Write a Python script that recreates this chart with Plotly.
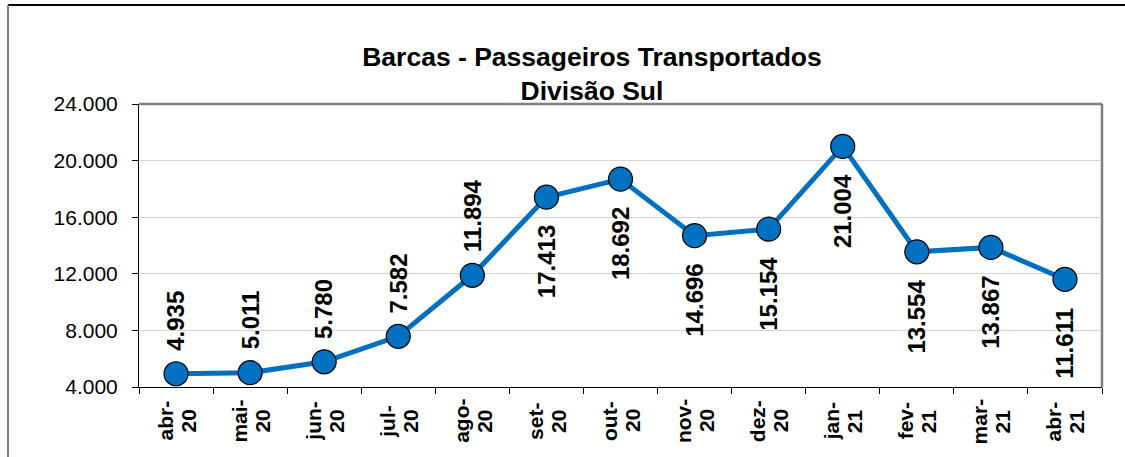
import plotly.graph_objects as go

months = ["abr-", "mai-", "jun-", "jul-", "ago-", "set-", "out-", "nov-", "dez-", "jan-", "fev-", "mar-", "abr-"]
years = ["20", "20", "20", "20", "20", "20", "20", "20", "20", "21", "21", "21", "21"]
passengers = [4935, 5011, 5780, 7582, 11894, 17413, 18692, 14696, 15154, 21004, 13554, 13867, 11611]
label_side = ["above"] * 5 + ["below"] * 8

categories = [f"{m}{y}" for m, y in zip(months, years)]

FONT = "Liberation Sans, Arial, sans-serif"
BLUE = "#0070C0"

def fmt(v):
    return f"{v:,}".replace(",", ".")

fig = go.Figure()
fig.add_trace(go.Scatter(
    x=categories, y=passengers, mode="lines+markers",
    line=dict(color=BLUE, width=5),
    marker=dict(size=24, color=BLUE, line=dict(color="black", width=1.2)),
    showlegend=False, hoverinfo="skip",
))

annotations = []
for c, v, side in zip(categories, passengers, label_side):
    annotations.append(dict(
        x=c, y=v, xref="x", yref="y", text=fmt(v), showarrow=False,
        textangle=-90, xanchor="center",
        yanchor="bottom" if side == "above" else "top",
        yshift=21 if side == "above" else -26,
        font=dict(family=FONT, size=24, color="black", weight="bold"),
    ))

# category labels: two rotated lines, each centred on a common baseline
label_font = dict(family=FONT, size=21, color="black", weight="bold")
for c, m, y in zip(categories, months, years):
    for txt, dx in ((m, -11.5), (y, 11.5)):
        annotations.append(dict(
            x=c, y=0, xref="x", yref="paper", text=txt, showarrow=False,
            textangle=-90, xanchor="center", yanchor="middle",
            xshift=dx, yshift=-34, font=label_font,
        ))

fig.update_layout(
    width=1125, height=457,
    margin=dict(l=139, r=23, t=104, b=70),
    paper_bgcolor="white", plot_bgcolor="white",
    separators=",.",
    title=dict(
        text="Barcas - Passageiros Transportados<br>Divisão Sul",
        x=592 / 1125, xanchor="center", xref="container",
        y=1 - 66 / 457, yanchor="top", yref="container",
        font=dict(family=FONT, size=26.5, color="black", weight="bold"),
    ),
    annotations=annotations,
    xaxis=dict(
        type="category", categoryorder="array", categoryarray=categories,
        showticklabels=False, ticks="outside", tickson="boundaries", ticklen=6,
        tickcolor="black", showline=True, linecolor="black", linewidth=1,
        showgrid=False, zeroline=False,
        range=[-0.5, len(categories) - 0.5],
    ),
    yaxis=dict(
        range=[4000, 24000], tickmode="linear", tick0=4000, dtick=4000,
        tickformat=",d", ticks="outside", ticklen=6, tickcolor="black",
        ticklabelstandoff=10,
        showline=True, linecolor="black", linewidth=1,
        showgrid=True, gridcolor="#D4D4D4", gridwidth=1, zeroline=False,
        tickfont=dict(family=FONT, size=21, color="black"),
    ),
    shapes=[
        dict(type="line", xref="paper", yref="paper", x0=0, x1=1, y0=1, y1=1,
             line=dict(color="#808080", width=2.5)),
        dict(type="line", xref="paper", yref="paper", x0=1, x1=1, y0=0, y1=1,
             line=dict(color="#808080", width=2.5)),
        dict(type="line", xref="paper", yref="paper",
             x0=(8 - 139) / 963, x1=(1125 - 139) / 963,
             y0=(387 - 5) / 283, y1=(387 - 5) / 283,
             line=dict(color="black", width=2)),
        dict(type="line", xref="paper", yref="paper",
             x0=(8 - 139) / 963, x1=(8 - 139) / 963,
             y0=(387 - 5) / 283, y1=(387 - 460) / 283,
             line=dict(color="#808080", width=2)),
    ],
)

fig.write_html("out.html", config={"displayModeBar": False},
               post_script="document.body.style.margin='0';")
